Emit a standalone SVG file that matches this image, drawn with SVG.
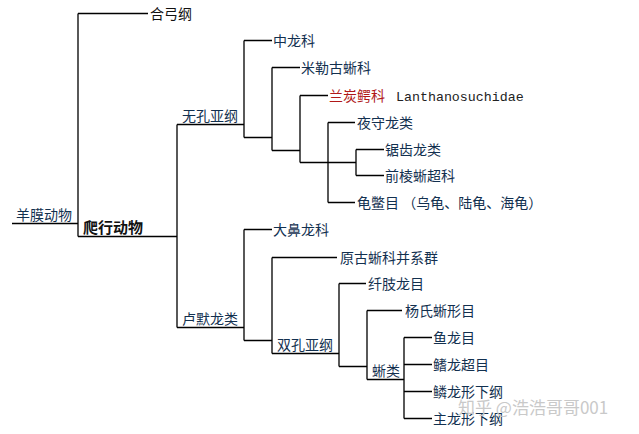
<svg xmlns="http://www.w3.org/2000/svg" width="639" height="434" viewBox="0 0 639 434">
<style>
.l{fill:none;stroke:#000;stroke-width:1.3}
text{font-family:"Noto Sans CJK SC","Noto Sans",sans-serif;font-size:14px;fill:#12304f}
.k{fill:#111}
.b{font-weight:bold;font-size:15px;fill:#111}
.r{fill:#b01818}
.m{font-family:"Liberation Mono",monospace;font-size:13.3px;fill:#222}
.w{font-size:17px;fill:#c9c9c9}
</style>
<rect width="639" height="434" fill="#fff"/>
<g id="connectors" class="l">
<path d="M12,223.5H78M78,13.5V236.5M78,13.5H148M78,236.5H177"/>
<path d="M177,124.5V327.5M177,124.5H244M177,327.5H244"/>
<path d="M244,40.5V137.5M244,40.5H272M244,137.5H272"/>
<path d="M272,67.5V150.5M272,67.5H300M272,150.5H300"/>
<path d="M300,95.5V162.5M300,95.5H328M300,162.5H356"/>
<path d="M328,122.5V202.5M328,122.5H355M328,202.5H355"/>
<path d="M356,149.5V175.5M356,149.5H384M356,175.5H384"/>
<path d="M244,229.5V340.5M244,229.5H272M244,340.5H272"/>
<path d="M272,257.5V353.5M272,257.5H337M272,353.5H339"/>
<path d="M339,283.5V366.5M339,283.5H366M339,366.5H367"/>
<path d="M367,310.5V379.5M367,310.5H402M367,379.5H404"/>
<path d="M404,337.5V418.5M404,337.5H432M404,364.5H432M404,391.5H432M404,418.5H432"/>
</g>
<g id="n-amniota"><text x="16" y="220">羊膜动物</text></g>
<g id="n-synapsida"><text class="k" x="150" y="18.5">合弓纲</text></g>
<g id="n-reptilia"><text class="b" x="83" y="233">爬行动物</text></g>
<g id="n-anapsida"><text x="182" y="121">无孔亚纲</text></g>
<g id="n-mesosauridae"><text x="273" y="45.5">中龙科</text></g>
<g id="n-millerettidae"><text x="301" y="72.5">米勒古蜥科</text></g>
<g id="n-lanthanosuchidae"><text class="r" x="329" y="100.5">兰炭鳄科</text><text class="m" x="396" y="100.5">Lanthanosuchidae</text></g>
<g id="n-nycteroleter"><text x="357" y="127.5">夜守龙类</text></g>
<g id="n-pareiasauria"><text x="385" y="154.5">锯齿龙类</text></g>
<g id="n-procolophonoidea"><text x="385" y="180.5">前棱蜥超科</text></g>
<g id="n-testudines"><text x="357" y="207.5">龟鳖目 （乌龟、陆龟、海龟）</text></g>
<g id="n-eureptilia"><text x="182" y="324">卢默龙类</text></g>
<g id="n-captorhinidae"><text x="273" y="234.5">大鼻龙科</text></g>
<g id="n-protorothyrididae"><text x="340" y="262.5">原古蜥科并系群</text></g>
<g id="n-diapsida"><text x="277" y="350">双孔亚纲</text></g>
<g id="n-araeoscelidia"><text x="368" y="288.5">纤肢龙目</text></g>
<g id="n-younginiformes"><text x="405" y="315.5">杨氏蜥形目</text></g>
<g id="n-sauria"><text x="372" y="376">蜥类</text></g>
<g id="n-ichthyosauria"><text x="433" y="342.5">鱼龙目</text></g>
<g id="n-sauropterygia"><text x="433" y="369.5">鳍龙超目</text></g>
<g id="n-lepidosauromorpha"><text x="433" y="396.5">鳞龙形下纲</text></g>
<g id="n-archosauromorpha"><text x="433" y="423.5">主龙形下纲</text></g>
<text class="w" x="458" y="414">知乎 @浩浩哥哥001</text>
</svg>
